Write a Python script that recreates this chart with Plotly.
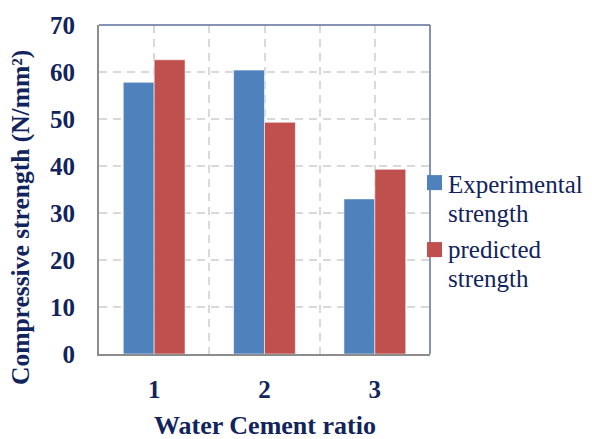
import plotly.graph_objects as go

# Data
ratios = [1, 2, 3]
series_names = ["Experimental strength", "predicted strength"]
experimental = [57.8, 60.4, 33.0]
predicted = [62.6, 49.3, 39.3]
y_ticks = [0, 10, 20, 30, 40, 50, 60, 70]

BLUE = "#4f81bd"
RED = "#c0504d"
TEXT = "#12245c"
FONT = "Liberation Serif"

fig = go.Figure()
for vals, color, name in [(experimental, BLUE, series_names[0]), (predicted, RED, series_names[1])]:
    fig.add_trace(go.Bar(
        x=ratios, y=vals, name=name,
        marker=dict(color=color, line=dict(color="rgba(255,255,255,0.55)", width=1)),
        showlegend=False,
    ))

# x grid at category centres and boundaries; labels only at centres
x_grid = [0.5, 1, 1.5, 2, 2.5, 3, 3.5]
x_text = [str(v) if v in ratios else "" for v in x_grid]

fig.update_layout(
    width=592, height=439,
    margin=dict(l=99, r=162, t=20, b=85),
    paper_bgcolor="white", plot_bgcolor="white",
    barmode="group", bargap=0.44, bargroupgap=0,
    font=dict(family=FONT, color=TEXT),
    xaxis=dict(
        range=[0.5, 3.5], tickvals=x_grid, ticktext=x_text,
        showgrid=True, gridcolor="#d9d9d9", gridwidth=2, griddash="8px,6px",
        showline=True, linecolor="#8c8c8c", linewidth=2,
        ticks="", ticklabelstandoff=12,
        tickfont=dict(family=FONT, size=25, color=TEXT, weight="bold"),
        zeroline=False,
    ),
    yaxis=dict(
        range=[0, 70], tickvals=y_ticks,
        showgrid=True, gridcolor="#d9d9d9", gridwidth=2, griddash="8px,6px",
        showline=True, linecolor="#8c8c8c", linewidth=2,
        ticks="", ticklabelstandoff=17,
        tickfont=dict(family=FONT, size=25, color=TEXT, weight="bold"),
        zeroline=False,
    ),
)

# Frame: top and right edges
fig.add_shape(type="line", xref="paper", yref="paper", x0=0, x1=1, y0=1, y1=1,
              line=dict(color="#5b6e9a", width=1.5))
fig.add_shape(type="line", xref="paper", yref="paper", x0=1, x1=1, y0=0, y1=1,
              line=dict(color="#5b6e9a", width=1.5))

# Axis titles
fig.add_annotation(text="Water Cement ratio", xref="paper", yref="paper",
                   x=0.5, y=0, yshift=-71, showarrow=False,
                   xanchor="center", yanchor="middle",
                   font=dict(family=FONT, size=26, color=TEXT, weight="bold"))
fig.add_annotation(text="Compressive strength (N/mm²)", xref="paper", yref="paper",
                   x=0, xshift=-79, y=0, yshift=136, textangle=-90, showarrow=False,
                   xanchor="center", yanchor="middle",
                   font=dict(family=FONT, size=25.5, color=TEXT, weight="bold"))

# Legend drawn beside the plot: a swatch and two text lines per series
plot_top, plot_h = 20, 334


def to_paper(py):
    return (plot_top + plot_h - py) / plot_h


legend_rows = [(180, 182, BLUE, series_names[0]), (248, 248, RED, series_names[1])]
line_step = 29
for sq_y, txt_y, color, name in legend_rows:
    fig.add_shape(type="rect", xref="paper", yref="paper",
                  xsizemode="pixel", ysizemode="pixel",
                  xanchor=1, yanchor=to_paper(sq_y), x0=-3, x1=12, y0=-7.5, y1=7.5,
                  fillcolor=color, line=dict(width=0))
    for i, word in enumerate(name.split(" ")):
        fig.add_annotation(text=word, xref="paper", yref="paper",
                           x=1, xshift=16, y=to_paper(txt_y + i * line_step),
                           xanchor="left", yanchor="middle", align="left", showarrow=False,
                           font=dict(family=FONT, size=25, color=TEXT))

fig.write_html("out.html")
